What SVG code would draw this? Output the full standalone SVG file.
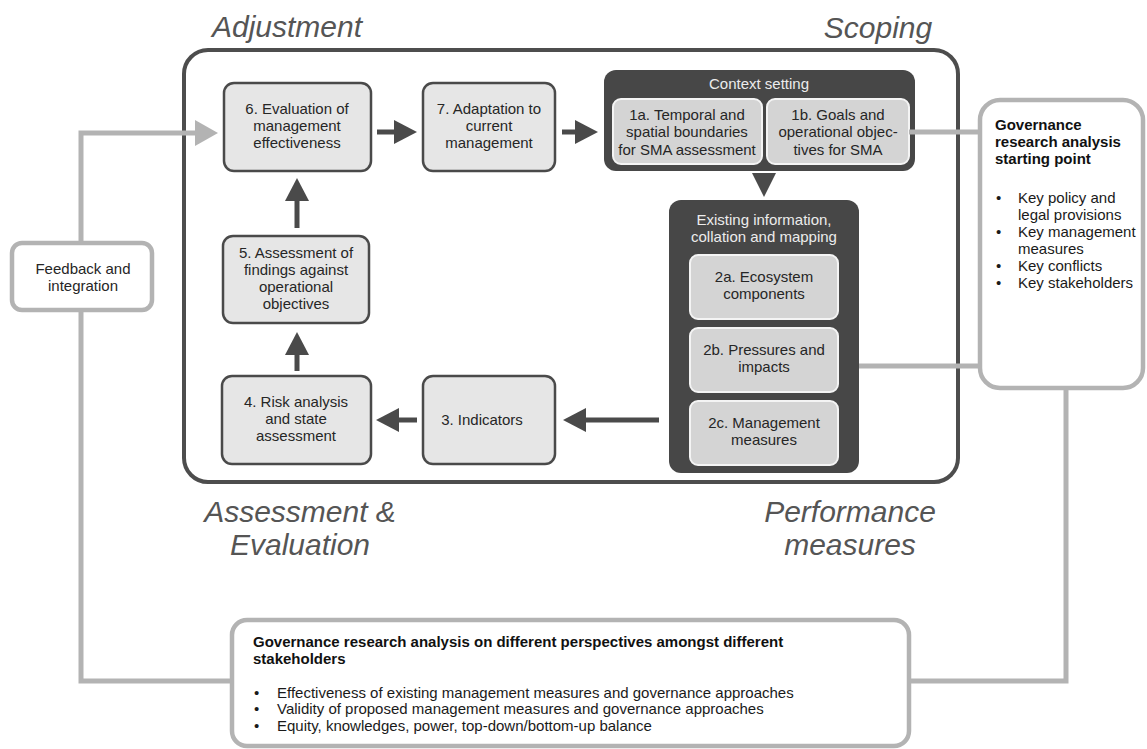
<svg xmlns="http://www.w3.org/2000/svg" width="1147" height="749" viewBox="0 0 1147 749">
<style>
  text { font-family: "Liberation Sans", Arial, sans-serif; }
  .lbl { font-size: 30px; font-style: italic; fill: #555555; text-anchor: middle; }
  .box { fill: #e6e6e6; stroke: #4a4a4a; stroke-width: 2.5; }
  .dark { fill: #474747; stroke: none; }
  .sub { fill: #d4d4d4; stroke: #f4f4f4; stroke-width: 2; }
  .gbox { fill: #ffffff; stroke: #b3b3b3; stroke-width: 4.5; }
  .t { font-size: 15px; fill: #262626; text-anchor: middle; }
  .tw { font-size: 15px; fill: #ececec; text-anchor: middle; }
  .tl { font-size: 15px; fill: #1a1a1a; }
  .tb { font-size: 15px; fill: #111111; font-weight: bold; }
  .arr { stroke: #4a4a4a; stroke-width: 5; fill: none; marker-end: url(#dh); }
  .gl { stroke: #b3b3b3; stroke-width: 5; fill: none; }
</style>
<defs>
  <marker id="dh" viewBox="0 0 23 24" refX="1" refY="12" markerWidth="23" markerHeight="24" markerUnits="userSpaceOnUse" orient="auto">
    <path d="M0,0 L23,12 L0,24 z" fill="#4a4a4a"/>
  </marker>
  <marker id="gh" viewBox="0 0 23 26" refX="1" refY="13" markerWidth="23" markerHeight="26" markerUnits="userSpaceOnUse" orient="auto">
    <path d="M0,0 L23,13 L0,26 z" fill="#b3b3b3"/>
  </marker>
</defs>

<!-- phase labels -->
<g id="labels">
  <text class="lbl" x="287" y="37">Adjustment</text>
  <text class="lbl" x="878" y="38">Scoping</text>
  <text class="lbl" x="300" y="522">Assessment &amp;</text>
  <text class="lbl" x="300" y="555">Evaluation</text>
  <text class="lbl" x="850" y="522">Performance</text>
  <text class="lbl" x="850" y="555">measures</text>
</g>

<!-- outer cycle frame -->
<g id="frame">
  <rect x="184" y="50" width="774" height="432" rx="24" fill="none" stroke="#4d4d4d" stroke-width="4"/>
</g>

<g id="node-6">
  <rect class="box" x="224" y="83" width="147" height="88" rx="10"/>
  <text class="t" x="297" y="114">6. Evaluation of</text>
  <text class="t" x="297" y="131">management</text>
  <text class="t" x="297" y="148">effectiveness</text>
</g>
<g id="node-7">
  <rect class="box" x="423" y="83" width="132" height="88" rx="10"/>
  <text class="t" x="489" y="114">7. Adaptation to</text>
  <text class="t" x="489" y="131">current</text>
  <text class="t" x="489" y="148">management</text>
</g>
<g id="node-context">
  <rect class="dark" x="604" y="70" width="311" height="101" rx="12"/>
  <text class="tw" x="759" y="89">Context setting</text>
</g>
<g id="node-1a">
  <rect class="sub" x="613" y="99" width="149" height="65" rx="8"/>
  <text class="t" x="687" y="120">1a. Temporal and</text>
  <text class="t" x="687" y="137">spatial boundaries</text>
  <text class="t" x="687" y="155">for SMA assessment</text>
</g>
<g id="node-1b">
  <rect class="sub" x="767" y="99" width="142" height="65" rx="8"/>
  <text class="t" x="838" y="120">1b. Goals and</text>
  <text class="t" x="838" y="137">operational objec-</text>
  <text class="t" x="838" y="155">tives for SMA</text>
</g>
<g id="node-existing">
  <rect class="dark" x="669" y="200" width="190" height="273" rx="12"/>
  <text class="tw" x="764" y="225">Existing information,</text>
  <text class="tw" x="764" y="242">collation and mapping</text>
</g>
<g id="node-2a">
  <rect class="sub" x="690" y="255" width="148" height="64" rx="8"/>
  <text class="t" x="764" y="282">2a. Ecosystem</text>
  <text class="t" x="764" y="299">components</text>
</g>
<g id="node-2b">
  <rect class="sub" x="690" y="328" width="148" height="64" rx="8"/>
  <text class="t" x="764" y="355">2b. Pressures and</text>
  <text class="t" x="764" y="372">impacts</text>
</g>
<g id="node-2c">
  <rect class="sub" x="690" y="401" width="148" height="64" rx="8"/>
  <text class="t" x="764" y="428">2c. Management</text>
  <text class="t" x="764" y="445">measures</text>
</g>
<g id="node-3">
  <rect class="box" x="423" y="376" width="132" height="88" rx="10"/>
  <text class="t" x="482" y="425">3. Indicators</text>
</g>
<g id="node-4">
  <rect class="box" x="222" y="376" width="149" height="88" rx="10"/>
  <text class="t" x="296" y="407">4. Risk analysis</text>
  <text class="t" x="296" y="424">and state</text>
  <text class="t" x="296" y="441">assessment</text>
</g>
<g id="node-5">
  <rect class="box" x="223" y="236" width="146" height="87" rx="10"/>
  <text class="t" x="296" y="258">5. Assessment of</text>
  <text class="t" x="296" y="275">findings against</text>
  <text class="t" x="296" y="292">operational</text>
  <text class="t" x="296" y="309">objectives</text>
</g>

<g id="node-feedback">
  <rect class="gbox" x="12" y="243" width="140" height="67" rx="10"/>
  <text class="t" x="83" y="274">Feedback and</text>
  <text class="t" x="83" y="291">integration</text>
</g>
<g id="node-starting-point">
  <rect class="gbox" x="980" y="100" width="163" height="288" rx="20"/>
  <text class="tb" x="995" y="130">Governance</text>
  <text class="tb" x="995" y="147">research analysis</text>
  <text class="tb" x="995" y="164">starting point</text>
  <text class="tl" x="996" y="203">•</text><text class="tl" x="1018" y="203">Key policy and</text>
  <text class="tl" x="1018" y="220">legal provisions</text>
  <text class="tl" x="996" y="237">•</text><text class="tl" x="1018" y="237">Key management</text>
  <text class="tl" x="1018" y="254">measures</text>
  <text class="tl" x="996" y="271">•</text><text class="tl" x="1018" y="271">Key conflicts</text>
  <text class="tl" x="996" y="288">•</text><text class="tl" x="1018" y="288">Key stakeholders</text>
</g>
<g id="node-perspectives">
  <rect class="gbox" x="232" y="620" width="677" height="126" rx="15"/>
  <text class="tb" x="253" y="647">Governance research analysis on different perspectives amongst different</text>
  <text class="tb" x="253" y="664">stakeholders</text>
  <text class="tl" x="254" y="698">•</text><text class="tl" x="277" y="698">Effectiveness of existing management measures and governance approaches</text>
  <text class="tl" x="254" y="714">•</text><text class="tl" x="277" y="714">Validity of proposed management measures and governance approaches</text>
  <text class="tl" x="254" y="731">•</text><text class="tl" x="277" y="731">Equity, knowledges, power, top-down/bottom-up balance</text>
</g>

<g id="connectors">
  <line class="arr" x1="377" y1="132" x2="395" y2="132"/>
  <line class="arr" x1="562" y1="132" x2="576" y2="132"/>
  <polygon points="752,173 776,173 764,197" fill="#4a4a4a"/>
  <line class="arr" x1="659" y1="420" x2="585" y2="420"/>
  <line class="arr" x1="417" y1="420" x2="398" y2="420"/>
  <line class="arr" x1="297" y1="371" x2="297" y2="354"/>
  <line class="arr" x1="297" y1="228" x2="297" y2="200"/>
  <path class="gl" d="M81,243 V133 H196" marker-end="url(#gh)"/>
  <path class="gl" d="M81,310 V681 H232"/>
  <path class="gl" d="M909,132 H980"/>
  <path class="gl" d="M859,366 H980"/>
  <path class="gl" d="M1066,388 V681 H909"/>
</g>
</svg>
